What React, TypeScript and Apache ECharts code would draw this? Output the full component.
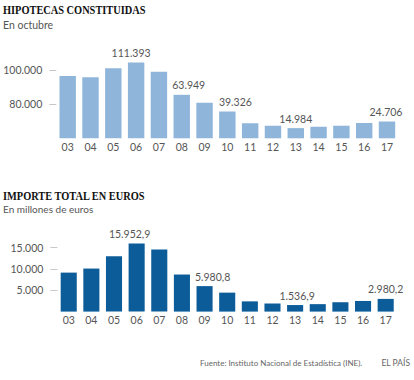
import React, { useEffect, useRef } from "react";
import * as echarts from "echarts";

const years = ["03", "04", "05", "06", "07", "08", "09", "10", "11", "12", "13", "14", "15", "16", "17"];
const hipotecas = [91600, 89700, 102900, 111393, 97900, 63949, 52400, 39326, 22000, 18500, 14984, 17000, 18500, 22500, 24706];
const importe = [9150, 10100, 13000, 15952.9, 14550, 8700, 5980.8, 4450, 2400, 1900, 1536.9, 1750, 2200, 2500, 2980.2];

const hipotecasTickValues = [50000, 100000];
const hipotecasTickLabels = ["80.000", "100.000"];
const importeTickValues = [5000, 10000, 15000];
const importeTickLabels = ["5.000", "10.000", "15.000"];

// indices of bars that carry a value label
const hipotecasLabeled = [3, 5, 7, 10, 14];
const importeLabeled = [3, 6, 10, 14];
// horizontal nudges of those labels (style)
const hipotecasLabelDx = [-5, 7, 8, 0, -1];
const importeLabelDx = [-7, 8, 2, 0];

const FONT = "Lato";
const GREY = "#555";

function fmtInt(v: number): string {
  return Math.round(v).toString().replace(/\B(?=(\d{3})+(?!\d))/g, ".");
}
function fmtDec(v: number): string {
  const [i, d] = v.toFixed(1).split(".");
  return i.replace(/\B(?=(\d{3})+(?!\d))/g, ".") + "," + d;
}

function buildData(values: number[], labeled: number[], dx: number[], fmt: (v: number) => string) {
  return values.map((v, i) => {
    const k = labeled.indexOf(i);
    if (k < 0) return { value: v };
    return {
      value: v,
      label: {
        show: true,
        position: "top",
        distance: 4,
        offset: [dx[k], 0],
        formatter: () => fmt(v),
        color: GREY,
        fontFamily: FONT,
        fontSize: 10.5,
      },
    };
  });
}

export default function App() {
  const ref = useRef<HTMLDivElement>(null);
  useEffect(() => {
    if (!ref.current) return;
    const chart = echarts.init(ref.current, undefined, { renderer: "svg" });
    const yAxisCommon = {
      axisLine: { show: false },
      splitLine: { show: false },
      axisTick: { show: true, length: 7, lineStyle: { color: "#c8c8c8" } },
      axisLabel: { color: GREY, fontFamily: FONT, fontSize: 10.5, margin: 14 },
    };
    const xAxisCommon = {
      type: "category",
      data: years,
      axisLine: { show: false },
      axisTick: { show: false },
      axisLabel: { color: GREY, fontFamily: FONT, fontSize: 10.5, margin: 3 },
    };
    chart.setOption({
      animation: false,
      backgroundColor: "#fff",
      grid: [
        { left: 56.3, right: 15.6, top: 56.7, bottom: 241.7 },
        { left: 57.4, right: 17, top: 234.9, bottom: 68.4 },
      ],
      xAxis: [
        { ...xAxisCommon, gridIndex: 0 },
        { ...xAxisCommon, gridIndex: 1 },
      ],
      yAxis: [
        {
          ...yAxisCommon,
          type: "value",
          gridIndex: 0,
          min: 0,
          max: 120000,
          axisTick: { ...yAxisCommon.axisTick, customValues: hipotecasTickValues },
          axisLabel: {
            ...yAxisCommon.axisLabel,
            customValues: hipotecasTickValues,
            formatter: (v: number) => hipotecasTickLabels[hipotecasTickValues.indexOf(v)] ?? "",
          },
        },
        {
          ...yAxisCommon,
          type: "value",
          gridIndex: 1,
          min: 0,
          max: 18000,
          axisTick: { ...yAxisCommon.axisTick, customValues: importeTickValues },
          axisLabel: {
            ...yAxisCommon.axisLabel,
            customValues: importeTickValues,
            formatter: (v: number) => importeTickLabels[importeTickValues.indexOf(v)] ?? "",
          },
        },
      ],
      series: [
        {
          type: "bar",
          xAxisIndex: 0,
          yAxisIndex: 0,
          barCategoryGap: "28%",
          itemStyle: { color: "#8fb6da" },
          data: buildData(hipotecas, hipotecasLabeled, hipotecasLabelDx, fmtInt),
        },
        {
          type: "bar",
          xAxisIndex: 1,
          yAxisIndex: 1,
          barCategoryGap: "29%",
          itemStyle: { color: "#0b5c99" },
          data: buildData(importe, importeLabeled, importeLabelDx, fmtDec),
        },
      ],
      graphic: [
        {
          type: "text",
          x: 3,
          y: 3,
          scaleX: 0.83,
          style: {
            text: "HIPOTECAS CONSTITUIDAS",
            font: "bold 12.5px 'Liberation Serif', serif",
            fill: "#111",
            textVerticalAlign: "top",
          },
        },
        {
          type: "text",
          x: 3,
          y: 19,
          style: { text: "En octubre", font: `10.5px ${FONT}`, fill: GREY, textVerticalAlign: "top" },
        },
        {
          type: "text",
          x: 3,
          y: 189,
          scaleX: 0.83,
          style: {
            text: "IMPORTE TOTAL EN EUROS",
            font: "bold 12.5px 'Liberation Serif', serif",
            fill: "#111",
            textVerticalAlign: "top",
          },
        },
        {
          type: "text",
          x: 3,
          y: 204,
          style: { text: "En millones de euros", font: `10px ${FONT}`, fill: GREY, textVerticalAlign: "top" },
        },
        {
          type: "text",
          x: 200,
          y: 363,
          style: {
            text: "Fuente: Instituto Nacional de Estadística (INE).",
            font: `8px ${FONT}`,
            fill: "#666",
            textVerticalAlign: "middle",
          },
        },
        {
          type: "text",
          x: 410,
          y: 363,
          style: {
            text: "EL PAÍS",
            font: `8.5px ${FONT}`,
            fill: "#666",
            textAlign: "right",
            textVerticalAlign: "middle",
          },
        },
      ],
    });
    return () => chart.dispose();
  }, []);
  return <div ref={ref} style={{ position: "fixed", left: 0, top: 0, width: 414, height: 380 }} />;
}
